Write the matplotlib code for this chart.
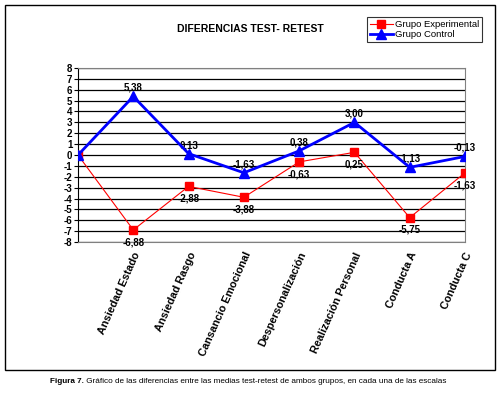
import matplotlib.pyplot as plt
from matplotlib.patches import Rectangle

# datos
categorias = ["", "Ansiedad Estado", "Ansiedad Rasgo", "Cansancio Emocional",
              "Despersonalización", "Realización Personal", "Conducta A", "Conducta C"]
experimental = [0, -6.88, -2.88, -3.88, -0.63, 0.25, -5.75, -1.63]
control = [0, 5.38, 0.13, -1.63, 0.38, 3.00, -1.13, -0.13]
yticks = list(range(-8, 9))

plt.rcParams['font.family'] = ['Liberation Sans', 'DejaVu Sans']

fig = plt.figure(figsize=(5, 3.95), dpi=100)
fig.patches.append(Rectangle((0.01, 0.063), 0.98, 0.924, transform=fig.transFigure,
                             fill=False, edgecolor='black', lw=1))

ax = fig.add_axes([0.156, 0.387, 0.774, 0.441])
x = list(range(len(categorias)))

ax.plot(x, experimental, color='red', lw=0.8, marker='s', markersize=6,
        label='Grupo Experimental', zorder=3)
ax.plot(x, control, color='blue', lw=2, marker='^', markersize=7,
        label='Grupo Control', zorder=4)

# etiquetas de datos (sin el primer punto)
for i in x[1:]:
    ax.annotate(f"{experimental[i]:.2f}".replace('.', ','), (i, experimental[i]),
                xytext=(0, -11), textcoords='offset points', ha='center',
                fontsize=7, fontweight='bold')
    ax.annotate(f"{control[i]:.2f}".replace('.', ','), (i, control[i]),
                xytext=(0, 4), textcoords='offset points', ha='center',
                fontsize=7, fontweight='bold')

ax.set_xlim(0, 7)
ax.set_ylim(-8, 8)
ax.set_yticks(yticks)
ax.set_yticklabels([str(v) for v in yticks], fontsize=7, fontweight='bold')
ax.set_xticks(x)
ax.set_xticklabels(categorias, rotation=66, ha='right', rotation_mode='anchor',
                   fontsize=7.8, fontweight='bold')
ax.tick_params(axis='x', length=0, pad=6)
ax.tick_params(axis='y', length=3, pad=1)
ax.grid(axis='y', color='black', lw=0.9)
ax.set_axisbelow(True)
for s in ax.spines.values():
    s.set_color('gray')
ax.spines['left'].set_color('black')

fig.text(0.5, 0.927, "DIFERENCIAS TEST- RETEST", ha='center', va='center',
         fontsize=7.5, fontweight='bold')

leg = fig.legend(loc='upper left', bbox_to_anchor=(0.724, 0.968), fontsize=6.8,
                 frameon=True, fancybox=False, edgecolor='black', borderpad=0.3,
                 labelspacing=0.1, handlelength=2.5, handletextpad=0.2)
leg.get_frame().set_linewidth(0.8)

# pie de figura: "Figura 7." en negrita y el resto normal
t = fig.text(0.1, 0.03, "Figura 7.", ha='left', va='baseline', fontsize=5.9,
             fontweight='bold')
ax.annotate(" Gráfico de las diferencias entre las medias test-retest de ambos grupos, en cada una de las escalas",
            xy=(1, 0), xycoords=t, va='bottom', ha='left', fontsize=5.9,
            annotation_clip=False)

fig.savefig("out.png", dpi=100)
